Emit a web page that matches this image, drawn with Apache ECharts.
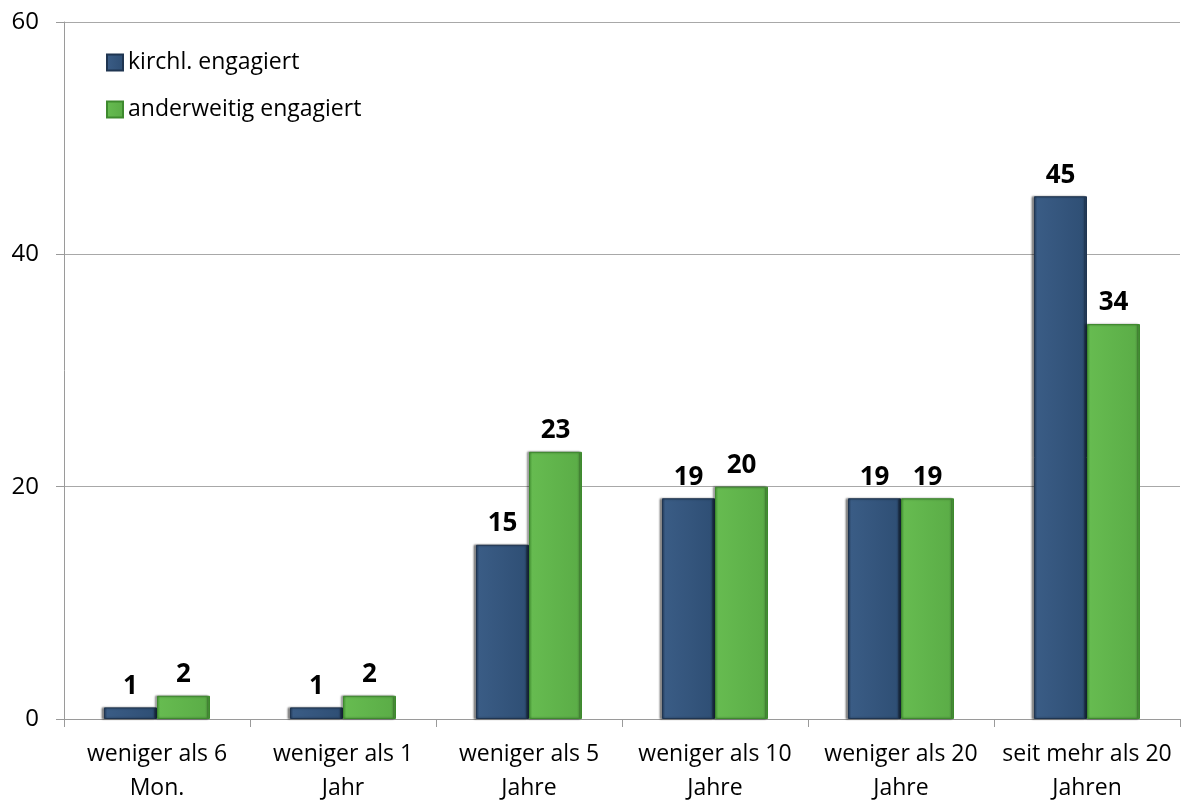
<!DOCTYPE html>
<html>
<head>
<meta charset="utf-8">
<script src="https://cdn.jsdelivr.net/npm/echarts@6/dist/echarts.min.js"></script>
<style>
html, body { margin: 0; padding: 0; background: #fff; }
#main { width: 1184px; height: 801px; }
</style>
</head>
<body>
<div id="main"></div>
<script>
var categories = ['weniger als 6\nMon.', 'weniger als 1\nJahr', 'weniger als 5\nJahre', 'weniger als 10\nJahre', 'weniger als 20\nJahre', 'seit mehr als 20\nJahren'];
var kirchl = [1, 1, 15, 19, 19, 45];
var anderweitig = [2, 2, 23, 20, 19, 34];
var yTicks = [0, 20, 40, 60];

var font = '"Open Sans", "Liberation Sans", sans-serif';

function barStyle(base, light, edge) {
    return {
        color: new echarts.graphic.LinearGradient(0, 0, 1, 0, [
            { offset: 0, color: edge },
            { offset: 0.06, color: light },
            { offset: 0.94, color: base },
            { offset: 1, color: edge }
        ]),
        borderColor: edge,
        borderWidth: 1,
        shadowColor: 'rgba(0,0,0,0.45)',
        shadowOffsetX: -2,
        shadowOffsetY: 0,
        shadowBlur: 2
    };
}

var myChart = echarts.init(document.getElementById('main'));
var option = {
    animation: false,
    textStyle: { fontFamily: font },
    grid: { left: 64, right: 4, top: 22, bottom: 82, containLabel: false, outerBoundsMode: 'none' },
    legend: {
        orient: 'vertical',
        left: 101,
        top: 46,
        itemWidth: 16,
        itemHeight: 16,
        itemGap: 24,
        icon: 'rect',
        textStyle: { fontSize: 23, color: '#000', fontFamily: font },
        data: ['kirchl. engagiert', 'anderweitig engagiert']
    },
    xAxis: {
        type: 'category',
        data: categories,
        axisLine: { lineStyle: { color: '#9a9a9a' } },
        axisTick: { show: true, length: 8, lineStyle: { color: '#9a9a9a' } },
        axisLabel: {
            fontSize: 23,
            color: '#000',
            lineHeight: 34,
            margin: 18,
            interval: 0,
            fontFamily: font
        }
    },
    yAxis: {
        type: 'value',
        min: yTicks[0],
        max: yTicks[yTicks.length - 1],
        interval: 20,
        axisLine: { show: true, lineStyle: { color: '#9a9a9a' } },
        axisTick: { show: true, length: 8, inside: false, lineStyle: { color: '#9a9a9a' } },
        splitLine: { lineStyle: { color: '#a8a8a8' } },
        axisLabel: { fontSize: 24, color: '#000', margin: 25, fontFamily: font }
    },
    series: [
        {
            name: 'kirchl. engagiert',
            type: 'bar',
            data: kirchl,
            barGap: '0%',
            barCategoryGap: '43%',
            itemStyle: barStyle('#2f4f75', '#3a5c85', '#1f3551'),
            label: { show: true, position: 'top', distance: 8, fontSize: 26, fontWeight: 'bold', color: '#000', fontFamily: font }
        },
        {
            name: 'anderweitig engagiert',
            type: 'bar',
            data: anderweitig,
            itemStyle: barStyle('#5bad47', '#66bb50', '#3e8a2e'),
            label: { show: true, position: 'top', distance: 8, fontSize: 26, fontWeight: 'bold', color: '#000', fontFamily: font }
        }
    ]
};
myChart.setOption(option);
</script>
</body>
</html>
